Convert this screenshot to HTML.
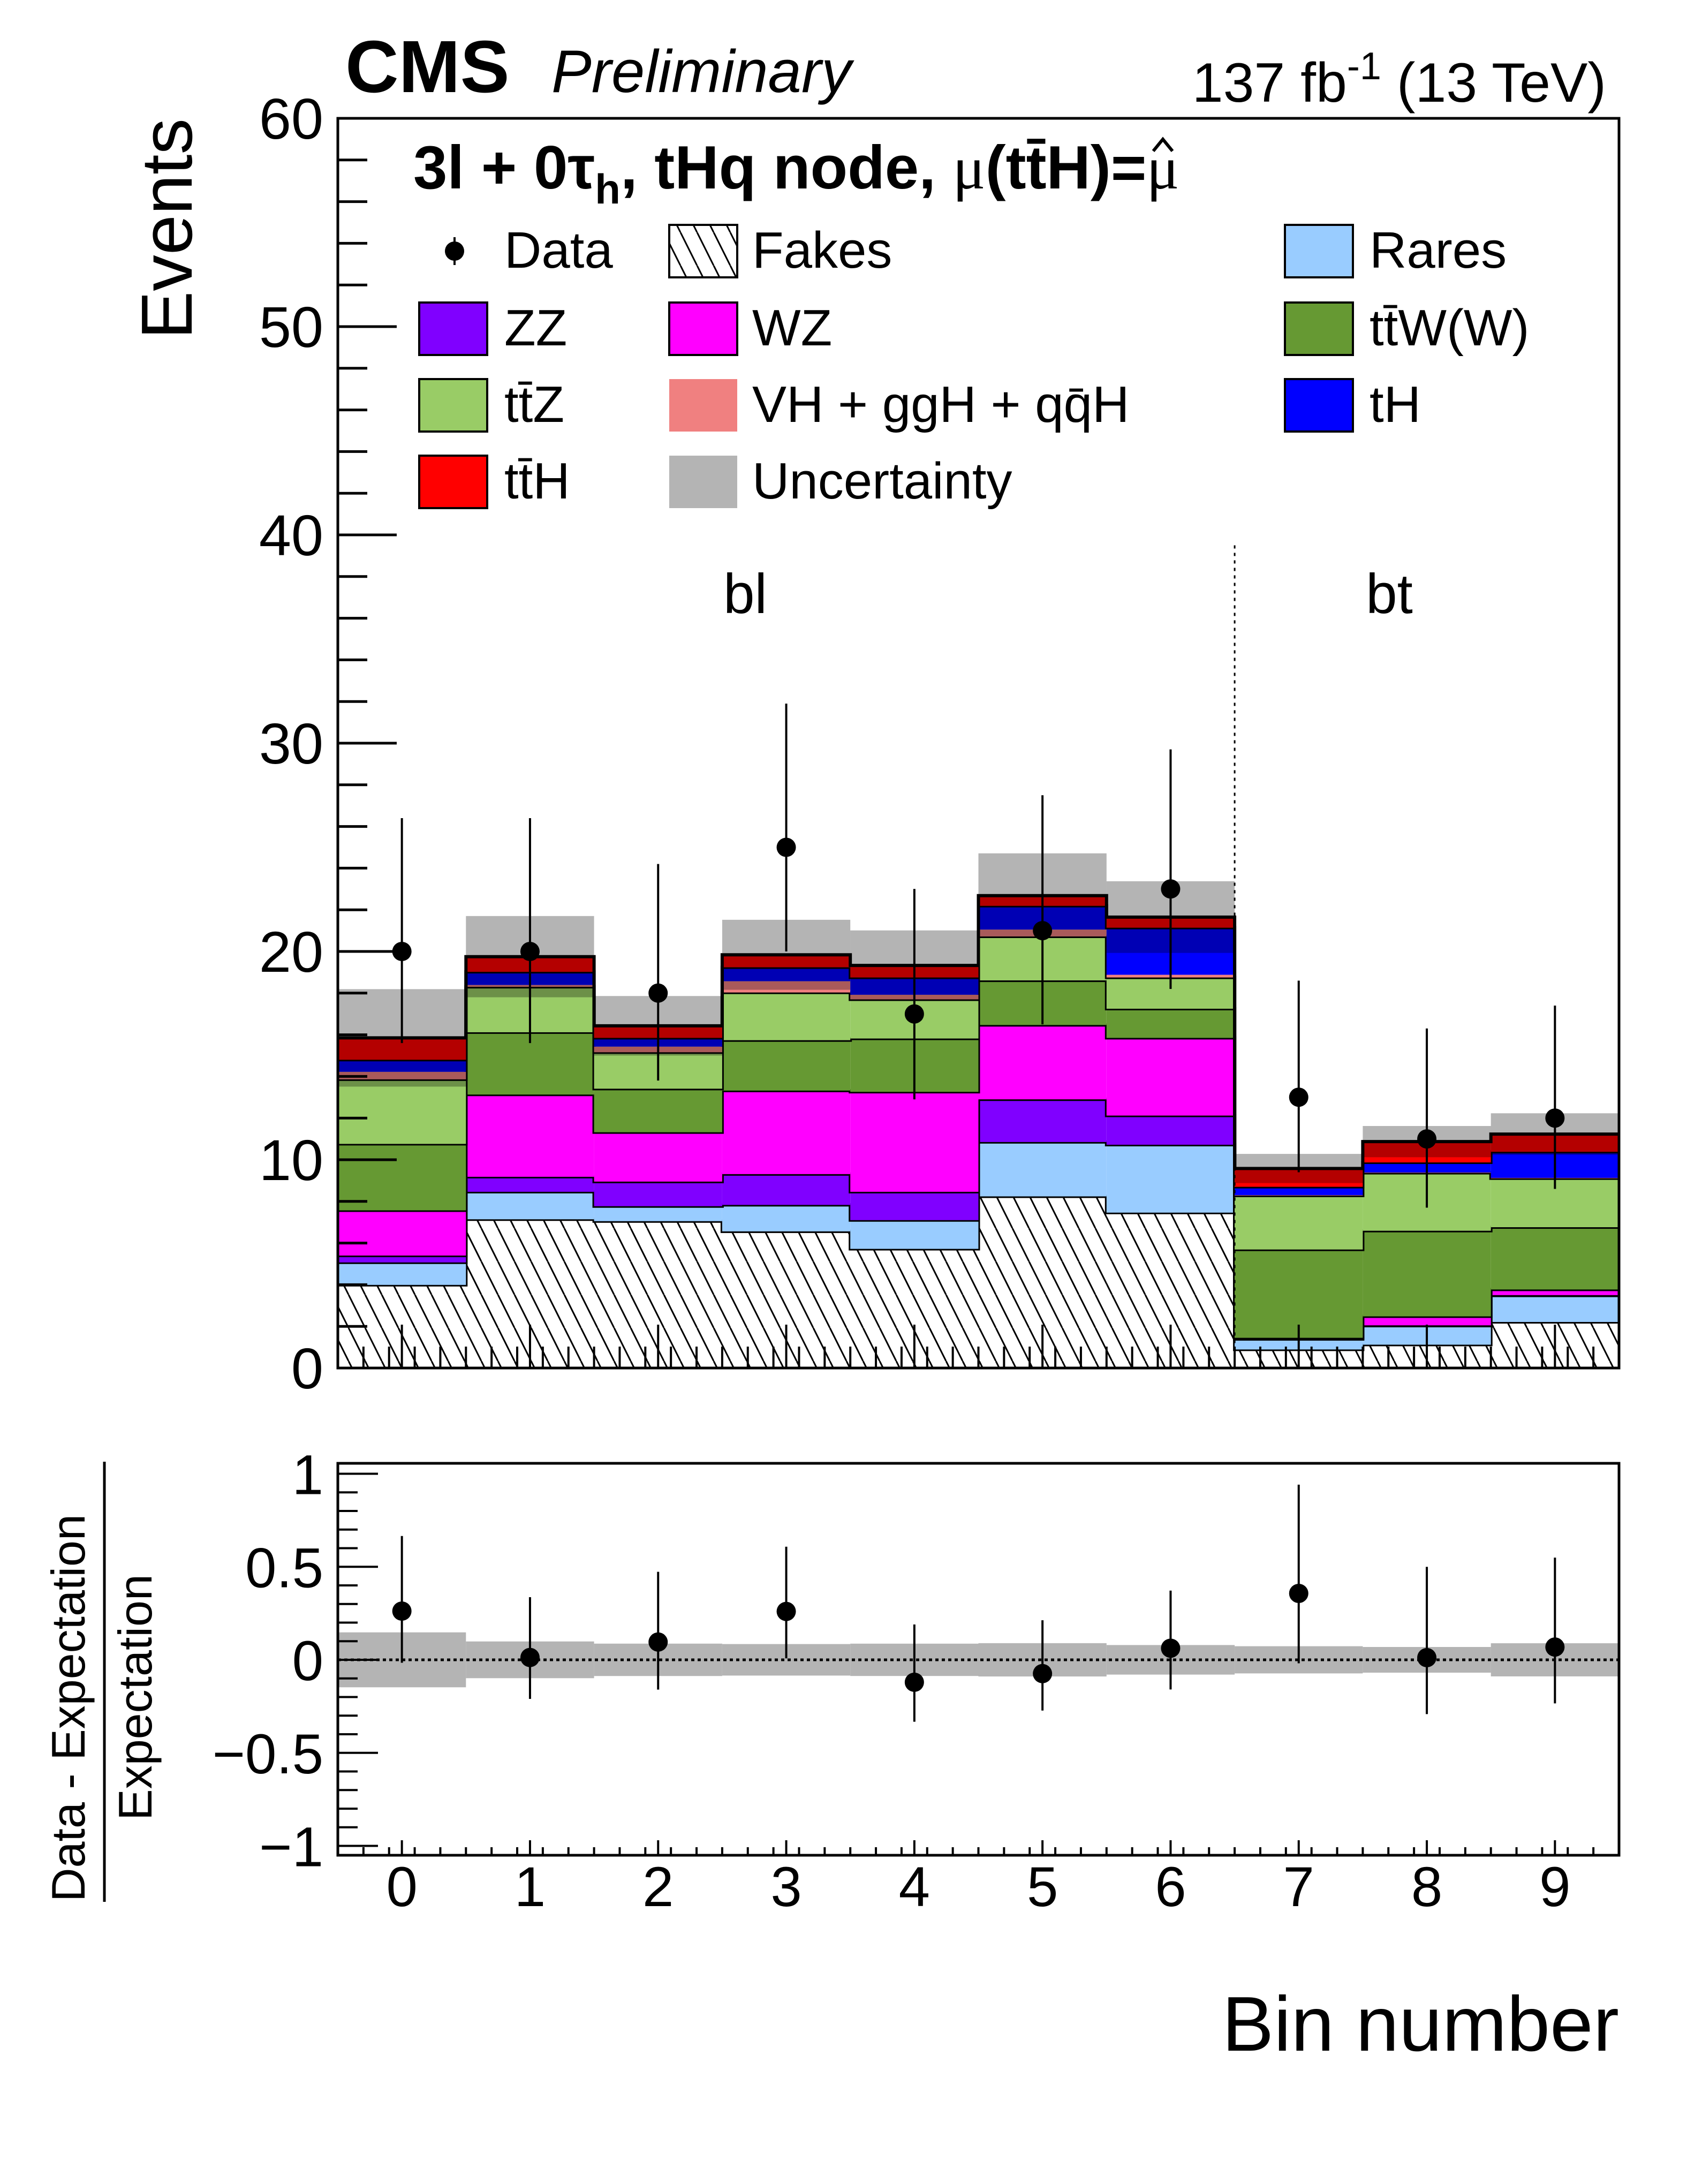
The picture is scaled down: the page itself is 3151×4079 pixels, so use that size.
<!DOCTYPE html>
<html><head><meta charset="utf-8">
<style>
html,body{margin:0;padding:0;background:#fff;}
svg{display:block;}
text{font-family:"Liberation Sans",sans-serif;fill:#000;}
</style></head>
<body>
<svg id="chart" width="3151" height="4079" viewBox="0 0 3151 4079" xmlns="http://www.w3.org/2000/svg">
<defs>
<pattern id="hatch" patternUnits="userSpaceOnUse" width="31" height="62">
<line x1="0" y1="0" x2="31" y2="62" stroke="#000" stroke-width="3"/>
<line x1="-31" y1="0" x2="0" y2="62" stroke="#000" stroke-width="3"/>
<line x1="31" y1="0" x2="62" y2="62" stroke="#000" stroke-width="3"/>
</pattern>
</defs>
<g id="main-marks"></g>
<g id="ratio-marks"></g>
<g id="axes"></g>

<text x="645" y="172" font-size="138" font-weight="bold">CMS</text>
<text x="1030" y="172" font-size="112" font-style="italic">Preliminary</text>
<text x="3000" y="190" font-size="104" text-anchor="end">137 fb<tspan dy="-42" font-size="72">-1</tspan><tspan dy="42"> (13 TeV)</tspan></text>
<text id="title" x="772" y="352" font-size="114" font-weight="bold">3l + 0τ<tspan dy="28" font-size="78">h</tspan><tspan dy="-28">, tHq node, </tspan><tspan font-family="'Liberation Serif',serif" font-weight="normal">μ</tspan>(tt̄H)=<tspan font-family="'Liberation Serif',serif" font-weight="normal">μ</tspan></text>
<polyline id="muhat" points="0,0" fill="none" stroke="#000" stroke-width="6"/>
<text x="1392" y="1145" font-size="105" text-anchor="middle">bl</text>
<text x="2595" y="1145" font-size="105" text-anchor="middle">bt</text>

<g font-size="96">
<g><line x1="849" y1="443" x2="849" y2="495" stroke="#000" stroke-width="4"/><circle cx="849" cy="469" r="18"/><text x="942" y="500">Data</text></g>
<g><rect x="1250" y="420" width="127" height="98" fill="url(#hatch)" stroke="#000" stroke-width="4"/><text x="1405" y="500">Fakes</text></g>
<g><rect x="2400" y="420" width="127" height="98" fill="#99ccff" stroke="#000" stroke-width="4"/><text x="2558" y="500">Rares</text></g>
<g><rect x="783" y="565" width="127" height="98" fill="#8000ff" stroke="#000" stroke-width="4"/><text x="942" y="645">ZZ</text></g>
<g><rect x="1250" y="565" width="127" height="98" fill="#ff00ff" stroke="#000" stroke-width="4"/><text x="1405" y="645">WZ</text></g>
<g><rect x="2400" y="565" width="127" height="98" fill="#669933" stroke="#000" stroke-width="4"/><text x="2558" y="645">tt̄W(W)</text></g>
<g><rect x="783" y="708" width="127" height="98" fill="#99cc66" stroke="#000" stroke-width="4"/><text x="942" y="788">tt̄Z</text></g>
<g><rect x="1250" y="708" width="127" height="98" fill="#f08080" stroke="none"/><text x="1405" y="788">VH + ggH + qq̄H</text></g>
<g><rect x="2400" y="708" width="127" height="98" fill="#0000ff" stroke="#000" stroke-width="4"/><text x="2558" y="788">tH</text></g>
<g><rect x="783" y="851" width="127" height="98" fill="#ff0000" stroke="#000" stroke-width="4"/><text x="942" y="931">tt̄H</text></g>
<g><rect x="1250" y="851" width="127" height="98" fill="#b4b4b4"/><text x="1405" y="931">Uncertainty</text></g>
</g>

<text transform="translate(358,221) rotate(-90)" font-size="135" text-anchor="end">Events</text>
<text x="3024" y="3830" font-size="145" text-anchor="end">Bin number</text>
<g>
<text transform="translate(158,3552) rotate(-90)" font-size="88">Data - Expectation</text>
<line x1="195" y1="3552" x2="195" y2="2730" stroke="#000" stroke-width="5"/>
<text transform="translate(283,3400) rotate(-90)" font-size="88">Expectation</text>
</g>
</svg>
<script>
const categories = [0,1,2,3,4,5,6,7,8,9];
const fakes = [3.99,7.14,7.05,6.56,5.72,8.24,7.46,0.89,1.12,2.21];
const rares = [1.08,1.32,0.72,1.27,1.38,2.61,3.26,0.50,0.91,1.27];
const zz    = [0.33,0.72,1.18,1.48,1.36,2.05,1.40,0.06,0.02,0.02];
const wz    = [2.17,3.95,2.37,4.01,4.80,3.57,3.73,0.00,0.43,0.27];
const ttw   = [3.19,2.99,2.09,2.42,2.56,2.14,1.40,4.24,4.11,2.99];
const ttz   = [3.10,2.18,1.75,2.29,1.88,2.11,1.50,2.59,2.78,2.35];
const vh    = [0.36,0.09,0.27,0.54,0.22,0.33,0.13,0.02,0.02,0.02];
const th    = [0.58,0.63,0.42,0.67,0.83,1.14,2.26,0.40,0.48,1.25];
const tth   = [1.05,0.73,0.58,0.60,0.58,0.49,0.51,0.88,1.00,0.85];
const uncertainty = [2.34,1.95,1.43,1.68,1.68,2.03,1.72,0.70,0.75,1.00];
const dataValues = [20,20,18,25,17,21,23,13,11,12];
const dataErrUp  = [6.4,6.4,6.2,6.9,6.0,6.5,6.7,5.6,5.3,5.4];
const dataErrDn  = [4.4,4.4,4.2,5.0,4.1,4.5,4.8,3.6,3.3,3.4];
const mainYTicks = [0,10,20,30,40,50,60];
const ratioYTicks = [1,0.5,0,-0.5,-1];
const ratioYTickLabels = ["1","0.5","0","\u22120.5","\u22121"];

const NS="http://www.w3.org/2000/svg";
const X0=631, X1=3024, Y0=2555, YTOP=221, RTOP=2733, RBOT=3465;
const bw=(X1-X0)/categories.length;
const xs=v=>X0+v*bw;
const ys=v=>Y0-v*(Y0-YTOP)/60;
const rs=v=>3100-v*347.5;
function mk(tag,attrs,parent){const e=document.createElementNS(NS,tag);for(const k in attrs)e.setAttribute(k,attrs[k]);parent.appendChild(e);return e;}
const gm=document.getElementById('main-marks'), gr=document.getElementById('ratio-marks'), ga=document.getElementById('axes');

const procs=[["fakes",fakes,"url(#hatch)"],["rares",rares,"#99ccff"],["zz",zz,"#8000ff"],["wz",wz,"#ff00ff"],["ttw",ttw,"#669933"],["ttz",ttz,"#99cc66"],["vh",vh,"#f08080"],["th",th,"#0000ff"],["tth",tth,"#ff0000"]];
const totals=categories.map(()=>0);
procs.forEach(([name,arr,col])=>{
  categories.forEach((c,i)=>{
    const lo=totals[i], hi=lo+arr[i];
    const r=mk('rect',{x:xs(i),y:ys(hi),width:bw,height:Math.max(0,ys(lo)-ys(hi)),fill:col},gm);
    
    
    totals[i]=hi;
  });
  let d='';
  categories.forEach((c,i)=>{d+=(i?'L':'M')+xs(i)+' '+ys(totals[i])+' L'+xs(i+1)+' '+ys(totals[i]);});
  const p=mk('path',{d:d,fill:'none',stroke:'#000','stroke-width':(name==='vh'?0:6)},gm);
  
  
});
categories.forEach((c,i)=>{
  const r=mk('rect',{x:xs(i),y:ys(totals[i]+uncertainty[i]),width:bw,height:ys(totals[i]-uncertainty[i])-ys(totals[i]+uncertainty[i]),fill:'#b4b4b4',style:'mix-blend-mode:multiply'},gm);
  
  
});
const sep=mk('line',{x1:xs(7),x2:xs(7),y1:ys(39.5),y2:Y0,stroke:'#000','stroke-width':3,'stroke-dasharray':'6 8'},gm);


categories.forEach((c,i)=>{
  const cx=xs(i+0.5);
  const l=mk('line',{x1:cx,x2:cx,y1:ys(dataValues[i]+dataErrUp[i]),y2:ys(dataValues[i]-dataErrDn[i]),stroke:'#000','stroke-width':4},gm);
  
  
  const p=mk('circle',{cx:cx,cy:ys(dataValues[i]),r:18,fill:'#000'},gm);
  
  
});
categories.forEach((c,i)=>{
  const u=uncertainty[i]/totals[i];
  const r=mk('rect',{x:xs(i),y:rs(u),width:bw,height:rs(-u)-rs(u),fill:'#b4b4b4'},gr);
  
  
});
const zl=mk('line',{x1:X0,x2:X1,y1:rs(0),y2:rs(0),stroke:'#000','stroke-width':5,'stroke-dasharray':'6 6'},gr);


categories.forEach((c,i)=>{
  const t=totals[i], cx=xs(i+0.5);
  const l=mk('line',{x1:cx,x2:cx,y1:rs((dataValues[i]+dataErrUp[i])/t-1),y2:rs((dataValues[i]-dataErrDn[i])/t-1),stroke:'#000','stroke-width':4},gr);
  
  
  const p=mk('circle',{cx:cx,cy:rs(dataValues[i]/t-1),r:18,fill:'#000'},gr);
  
  
});
const f1=mk('rect',{x:X0,y:YTOP,width:X1-X0,height:Y0-YTOP,fill:'none',stroke:'#000','stroke-width':5},ga);


const f2=mk('rect',{x:X0,y:RTOP,width:X1-X0,height:RBOT-RTOP,fill:'none',stroke:'#000','stroke-width':5},ga);


for(let v=0;v<=60;v+=2){
  const maj=v%10===0;
  mk('line',{x1:X0,x2:X0+(maj?110:55),y1:ys(v),y2:ys(v),stroke:'#000','stroke-width':5},ga);
}
mainYTicks.forEach(v=>{
  const t=mk('text',{x:604,y:ys(v)+38,'font-size':108,'text-anchor':'end'},ga);
  t.textContent=v;
  
  
});
for(let k=-10;k<=10;k++){
  const v=k/10, maj=k%5===0;
  mk('line',{x1:X0,x2:X0+(maj?75:37),y1:rs(v),y2:rs(v),stroke:'#000','stroke-width':4},ga);
}
ratioYTicks.forEach((v,j)=>{
  const t=mk('text',{x:604,y:rs(v)+38,'font-size':105,'text-anchor':'end'},ga);
  t.textContent=ratioYTickLabels[j];
  
  
});
for(let k=0;k<=50;k++){
  const x=X0+k*bw/5;
  mk('line',{x1:x,x2:x,y1:Y0,y2:Y0-40,stroke:'#000','stroke-width':4},ga);
  mk('line',{x1:x,x2:x,y1:RBOT,y2:RBOT-15,stroke:'#000','stroke-width':4},ga);
}
categories.forEach((c,i)=>{
  const x=xs(i+0.5);
  mk('line',{x1:x,x2:x,y1:Y0,y2:Y0-81,stroke:'#000','stroke-width':4},ga);
  mk('line',{x1:x,x2:x,y1:RBOT,y2:RBOT-28,stroke:'#000','stroke-width':4},ga);
  const t=mk('text',{x:x,y:3560,'font-size':105,'text-anchor':'middle'},ga);
  t.textContent=c;
  
  
});
try{
  const title=document.getElementById('title');
  const n=title.getNumberOfChars();
  const b=title.getExtentOfChar(n-1);
  const cx=b.x+b.width/2, top=b.y+b.height*0.08;
  document.getElementById('muhat').setAttribute('points',(cx-18)+','+(top+22)+' '+cx+','+top+' '+(cx+18)+','+(top+22));
}catch(e){}
</script>
</body></html>
